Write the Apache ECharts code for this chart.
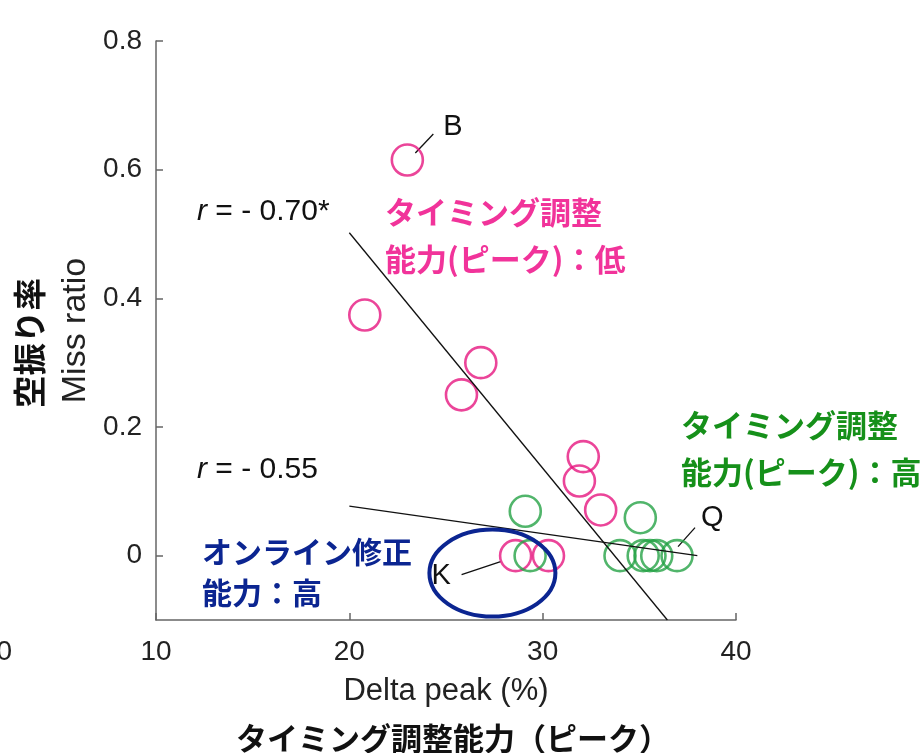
<!DOCTYPE html>
<html>
<head>
<meta charset="utf-8">
<script src="https://cdn.jsdelivr.net/npm/echarts@6/dist/echarts.min.js"></script>
<style>
  html, body { margin: 0; padding: 0; background: #fff; }
  #chart { width: 924px; height: 753px; }
</style>
</head>
<body>
<div id="chart"></div>
<script>
// Players with low peak-timing adjustment ability (pink) : [Delta peak %, miss ratio]
const lowAbility = [
  [23.0, 0.615],  // B
  [20.8, 0.374],
  [26.8, 0.300],
  [25.8, 0.250],
  [32.1, 0.154],
  [31.9, 0.116],
  [33.0, 0.071],
  [28.6, 0.000],  // K
  [30.3, 0.000]
];
// Players with high peak-timing adjustment ability (green)
const highAbility = [
  [29.1, 0.069],
  [29.35, 0.000],
  [35.05, 0.059],
  [34.0, 0.000],
  [35.2, 0.000],
  [35.55, 0.000],
  [35.9, 0.000],
  [36.95, 0.000]  // Q
];
// Regression lines (end points)
const fitLow = [[20.0, 0.502], [36.45, -0.1]];
const fitAll = [[20.0, 0.077], [38.0, 0.0]];

const xTicks = [10, 20, 30, 40];
const yTicks = [0, 0.2, 0.4, 0.6, 0.8];

const PINK = '#e6177f';
const GREEN = '#25a246';
const PINK_TEXT = '#f1339a';
const GREEN_TEXT = '#16901a';
const NAVY = '#0b2591';
const AXIS = '#666';
const LABEL = '#222';
const LATIN = '"Liberation Sans", Arial, sans-serif';
const CJK = '"Noto Sans CJK JP", sans-serif';

const chart = echarts.init(document.getElementById('chart'));

const circleStyle = (c) => ({
  color: 'rgba(0,0,0,0)',
  borderColor: c,
  borderWidth: 2.6
});

chart.setOption({
  animation: false,
  grid: { left: 156, right: 188, top: 41, bottom: 133 },
  xAxis: {
    type: 'value',
    min: 10, max: 40, interval: 10,
    name: 'Delta peak (%)',
    nameLocation: 'middle',
    nameGap: 56,
    nameTextStyle: { fontFamily: LATIN, fontSize: 31, color: LABEL },
    axisLine: { show: true, onZero: false, lineStyle: { color: AXIS, width: 1.5 } },
    axisTick: { show: true, inside: true, length: 7, lineStyle: { color: AXIS, width: 1.5 },
                customValues: xTicks },
    axisLabel: { fontFamily: LATIN, fontSize: 28, color: LABEL, margin: 18, customValues: xTicks },
    splitLine: { show: false }
  },
  yAxis: {
    type: 'value',
    min: -0.1, max: 0.8,
    name: 'Miss ratio',
    nameLocation: 'middle',
    nameGap: 62,
    nameRotate: 90,
    nameTextStyle: { fontFamily: LATIN, fontSize: 34, color: LABEL },
    axisLine: { show: true, onZero: false, lineStyle: { color: AXIS, width: 1.5 } },
    axisTick: { show: true, inside: true, length: 7, lineStyle: { color: AXIS, width: 1.5 },
                customValues: yTicks },
    axisLabel: { fontFamily: LATIN, fontSize: 28, color: LABEL, margin: 14, customValues: yTicks,
                 formatter: v => (Math.abs(v) < 1e-9 ? '0' : v.toFixed(1)) },
    splitLine: { show: false }
  },
  series: [
    { type: 'scatter', data: lowAbility, symbol: 'circle', symbolSize: 31,
      itemStyle: circleStyle(PINK), z: 2 },
    { type: 'scatter', data: highAbility, symbol: 'circle', symbolSize: 31,
      itemStyle: circleStyle(GREEN), z: 2 },
    { type: 'line', data: fitLow, symbol: 'none', silent: true, z: 3,
      lineStyle: { color: '#111', width: 1.3 } },
    { type: 'line', data: fitAll, symbol: 'none', silent: true, z: 3,
      lineStyle: { color: '#111', width: 1.3 } }
  ]
});

// Annotations placed relative to the data they point at
const px = (p) => chart.convertToPixel({ gridIndex: 0 }, p);
const pB = px(lowAbility[0]);
const pK = px(lowAbility[7]);
const pQ = px(highAbility[7]);
const ellC = px([27.4, -0.027]);

const jpText = (x, y, text, color, size) => ({
  type: 'text', x, y,
  style: { text, fill: color, font: `bold ${size}px ${CJK}`, textVerticalAlign: 'middle' }
});

const rText = (y, value) => ({
  type: 'text', x: 197, y,
  style: { text: '{i|r} = - ' + value, font: `30px ${LATIN}`, fill: '#111', textVerticalAlign: 'middle',
           rich: { i: { fontStyle: 'italic', fontFamily: LATIN, fontSize: 30, fill: '#111' } } }
});

chart.setOption({
  graphic: [
    // Callout: B
    { type: 'line', shape: { x1: pB[0] + 8, y1: pB[1] - 7, x2: pB[0] + 26, y2: pB[1] - 26 },
      style: { stroke: '#111', lineWidth: 1.3 } },
    { type: 'text', x: pB[0] + 36, y: pB[1] - 33,
      style: { text: 'B', font: `29px ${LATIN}`, fill: '#111', textVerticalAlign: 'middle' } },
    // Callout: Q
    { type: 'line', shape: { x1: pQ[0] + 1, y1: pQ[1] - 9, x2: pQ[0] + 18, y2: pQ[1] - 28 },
      style: { stroke: '#111', lineWidth: 1.3 } },
    { type: 'text', x: pQ[0] + 24, y: pQ[1] - 38,
      style: { text: 'Q', font: `29px ${LATIN}`, fill: '#111', textVerticalAlign: 'middle' } },
    // Callout: K
    { type: 'line', shape: { x1: pK[0] - 15, y1: pK[1] + 6, x2: pK[0] - 54, y2: pK[1] + 19 },
      style: { stroke: '#111', lineWidth: 1.3 } },
    { type: 'text', x: pK[0] - 84, y: pK[1] + 20,
      style: { text: 'K', font: `29px ${LATIN}`, fill: '#111', textVerticalAlign: 'middle' } },
    // Online-correction group outline
    { type: 'ellipse', shape: { cx: ellC[0], cy: ellC[1], rx: 63, ry: 43.5 },
      style: { fill: 'none', stroke: NAVY, lineWidth: 4 }, z: 10 },
    // Correlation coefficients
    rText(212, '0.70*'),
    rText(470, '0.55'),
    // Group captions
    jpText(385, 212, 'タイミング調整', PINK_TEXT, 31),
    jpText(385, 259, '能力(ピーク)：低', PINK_TEXT, 31),
    jpText(681, 425, 'タイミング調整', GREEN_TEXT, 31),
    jpText(681, 472, '能力(ピーク)：高', GREEN_TEXT, 31),
    jpText(202, 552, 'オンライン修正', NAVY, 30),
    jpText(202, 593, '能力：高', NAVY, 30),
    // Japanese axis titles
    { type: 'text', x: 453, y: 738,
      style: { text: 'タイミング調整能力（ピーク）', font: `bold 31px ${CJK}`, fill: '#111',
               textAlign: 'center', textVerticalAlign: 'middle' } },
    { type: 'text', x: 30, y: 343, rotation: Math.PI / 2,
      style: { text: '空振り率', font: `bold 32.5px ${CJK}`, fill: '#111',
               textAlign: 'center', textVerticalAlign: 'middle' } },
    // Partial tick label at the left edge
    { type: 'text', x: 12, y: 652,
      style: { text: '0', font: `28px ${LATIN}`, fill: LABEL, textAlign: 'right', textVerticalAlign: 'middle' } }
  ]
});
</script>
</body>
</html>
